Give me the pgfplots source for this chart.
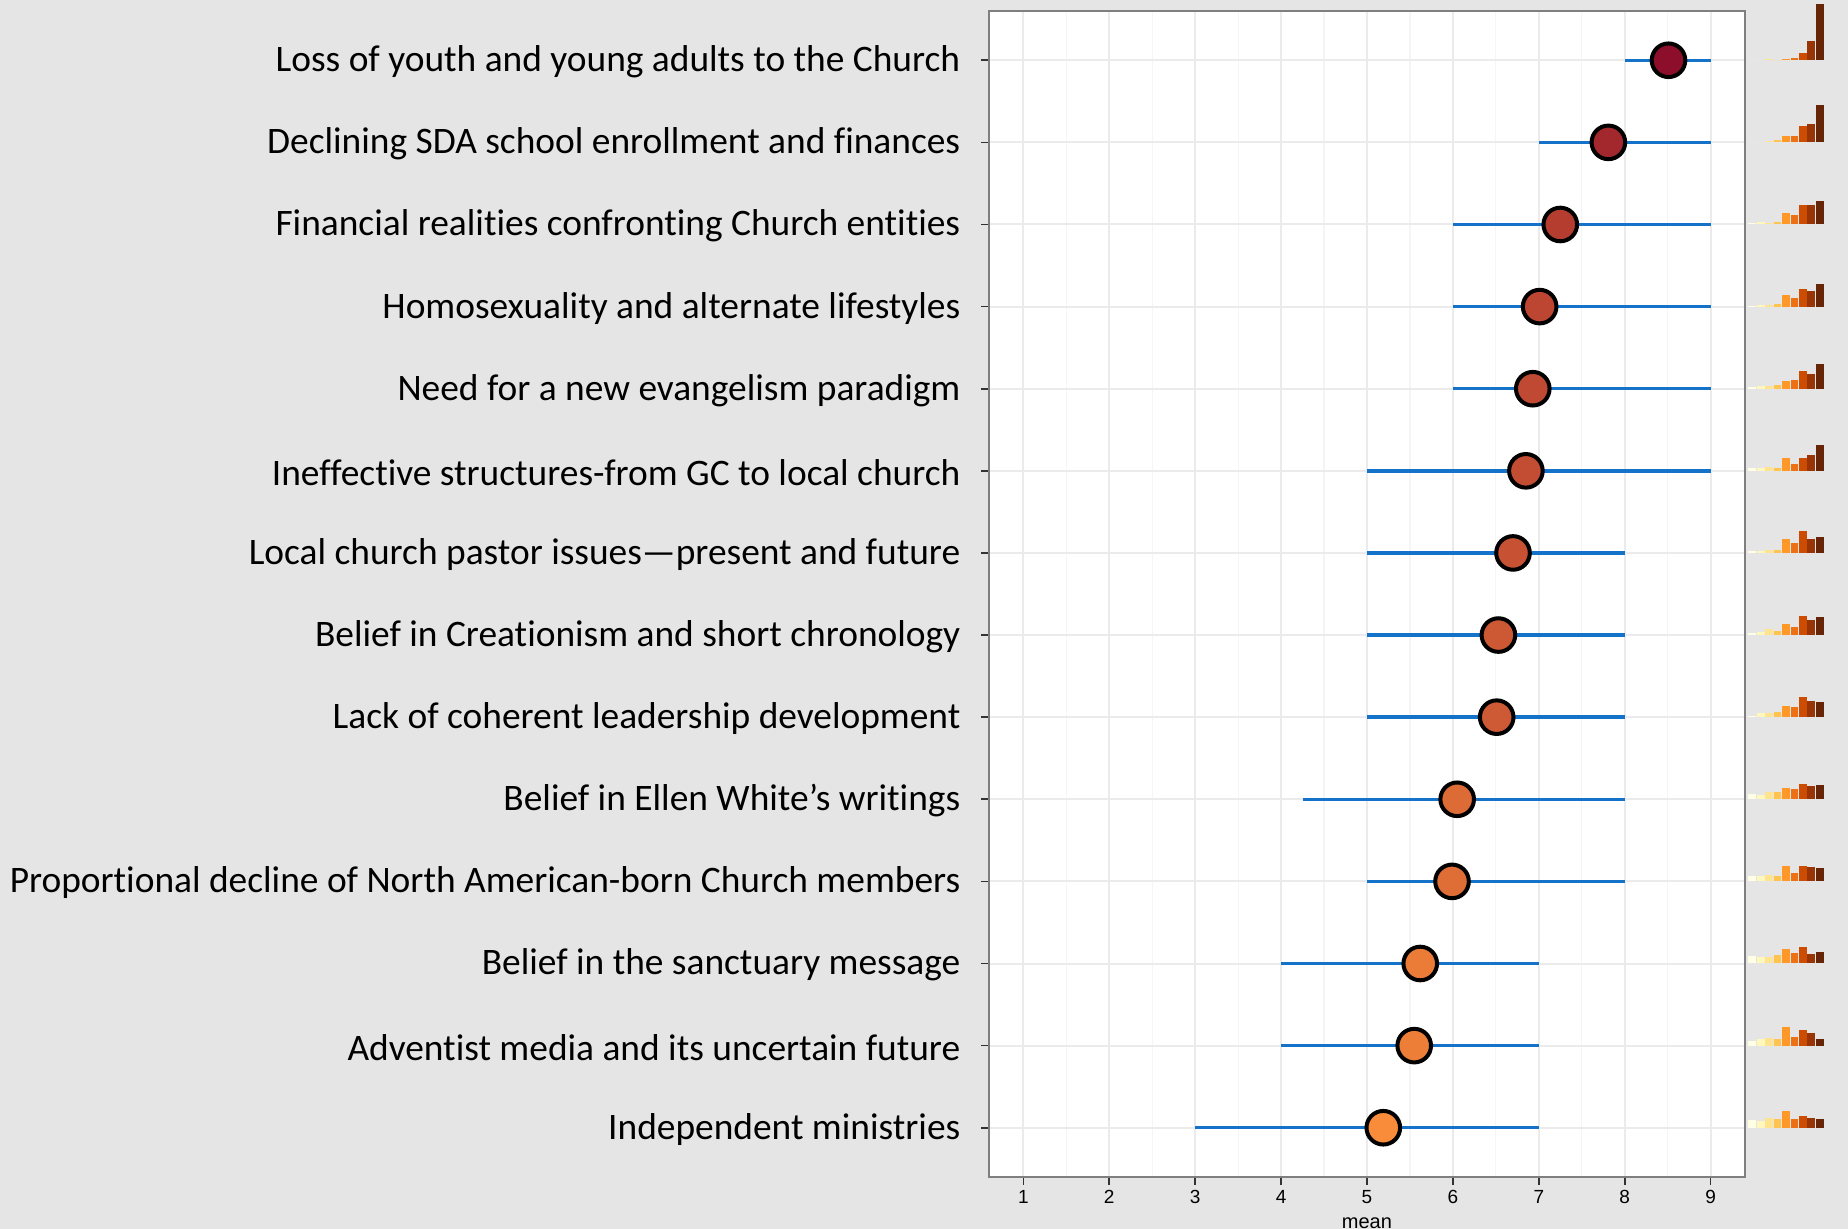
\documentclass[border=0pt]{standalone}
\usepackage{pgfplots}
\pgfplotsset{compat=1.18}
\usepackage{pgfplotstable}
\usepackage{fontspec}
\setmainfont{Liberation Sans}
\newfontfamily\carlito[Ligatures=NoCommon]{Carlito}

\definecolor{bggray}{RGB}{229,229,229}
\definecolor{gridmaj}{RGB}{235,235,235}
\definecolor{gridmin}{RGB}{245,245,245}
\definecolor{bordergray}{RGB}{127,127,127}
\definecolor{errblue}{RGB}{20,114,200}
\definecolor{yob1}{RGB}{255,255,229}
\definecolor{yob2}{RGB}{255,247,188}
\definecolor{yob3}{RGB}{254,227,145}
\definecolor{yob4}{RGB}{254,196,79}
\definecolor{yob5}{RGB}{254,153,41}
\definecolor{yob6}{RGB}{236,112,20}
\definecolor{yob7}{RGB}{204,76,2}
\definecolor{yob8}{RGB}{153,52,4}
\definecolor{yob9}{RGB}{102,37,6}

\pgfplotstableread{
row mean lo hi
1 8.51 8 9
2 7.81 7 9
3 7.25 6 9
4 7.01 6 9
5 6.93 6 9
6 6.85 5 9
7 6.70 5 8
8 6.53 5 8
9 6.51 5 8
10 6.05 4.25 8
11 5.99 5 8
12 5.62 4 7
13 5.55 4 7
14 5.19 3 7
}\meandata

\pgfplotstableread{
bin r1 r2 r3 r4 r5 r6 r7 r8 r9 r10 r11 r12 r13 r14
1 0 0 3 3 6 9 6 6 3 15 15 21 15 24
2 0 0 6 6 9 9 6 9 12 12 15 18 21 21
3 3 3 3 6 9 12 9 18 12 21 18 18 24 29
4 0 6 6 9 12 9 9 12 15 21 15 24 21 26
5 3 18 33 36 24 39 42 33 33 33 45 42 57 50
6 6 18 27 27 27 21 30 24 30 30 24 30 27 26
7 21 48 57 54 54 39 66 57 60 45 45 48 48 36
8 57 54 57 48 45 48 42 45 48 39 42 27 39 30
9 168 111 69 69 75 78 48 54 45 42 39 33 21 27
}\histdata

\newcommand{\hist}[1]{%
\begin{axis}[at={(379.5pt,{(14.6-#1)*41.056pt})}, anchor=south west,
  scale only axis, width=38pt, height=28pt,
  xmin=0.5, xmax=9.5, ymin=0, ymax=168, hide axis, clip=false]
\pgfplotsinvokeforeach{1,...,9}{%
  \addplot[ybar, bar width=3.9pt, bar shift=0pt, draw=none, fill=yob##1,
    unbounded coords=discard,
    x filter/.expression={abs(x-##1)<0.3 ? x : nan}] table[x=bin, y=r#1]{\histdata};}
\end{axis}}

\begin{document}
\begin{tikzpicture}
\fill[bggray] (-494.5pt,-26pt) rectangle (429.5pt,588.5pt);
\begin{axis}[
  at={(0,0)}, anchor=south west, scale only axis, width=378pt, height=583pt,
  xmin=0.6, xmax=9.4, ymin=0.4, ymax=14.6, y dir=reverse,
  xtick={1,...,9}, minor xtick={1.5,2.5,...,8.5},
  ytick={1,...,14},
  yticklabels={Loss of youth and young adults to the Church,
    Declining SDA school enrollment and finances,
    Financial realities confronting Church entities,
    Homosexuality and alternate lifestyles,
    Need for a new evangelism paradigm,
    Ineffective structures-from GC to local church,
    Local church pastor issues—present and future,
    Belief in Creationism and short chronology,
    Lack of coherent leadership development,
    Belief in Ellen White’s writings,
    Proportional decline of North American-born Church members,
    Belief in the sanctuary message,
    Adventist media and its uncertain future,
    Independent ministries},
  xmajorgrids, xminorgrids, ymajorgrids,
  major grid style={color=gridmaj, line width=1pt},
  minor grid style={color=gridmin, line width=0.6pt},
  axis line style={color=bordergray, line width=1.2pt},
  axis background/.style={fill=white},
  tick align=outside, xtick pos=bottom, ytick pos=left,
  major tick length=3.8pt, minor tick length=0pt,
  tick style={color=black!80, line width=0.8pt},
  yticklabel style={font=\carlito\fontsize{18.7}{22}\selectfont, xshift=-7pt, yshift=-0.8pt},
  xticklabel style={font=\fontsize{9.5}{10}\selectfont, yshift=0.6pt},
  /pgf/number format/assume math mode=true,
  xlabel={mean}, xlabel style={font=\fontsize{10}{12}\selectfont},
  colormap={dots}{rgb255=(248,140,58) rgb255=(140,14,42)},
  point meta min=5.19, point meta max=8.51,
  clip=false,
]
\addplot[only marks, mark=none, forget plot,
  error bars/.cd, x dir=both, x explicit, error mark=none,
  error bar style={draw=errblue, line width=1.7pt}]
  table[x=mean, y=row,
    x error minus expr=\thisrow{mean}-\thisrow{lo},
    x error plus expr=\thisrow{hi}-\thisrow{mean}]{\meandata};
\addplot[scatter, only marks, mark=*, mark size=8.4pt, point meta=explicit,
  scatter/use mapped color={draw=black, fill=mapped color},
  mark options={line width=2pt}]
  table[x=mean, y=row, meta=mean]{\meandata};
\end{axis}
\hist{1}
\hist{2}
\hist{3}
\hist{4}
\hist{5}
\hist{6}
\hist{7}
\hist{8}
\hist{9}
\hist{10}
\hist{11}
\hist{12}
\hist{13}
\hist{14}
\pgfresetboundingbox
\useasboundingbox (-494.5pt,-26pt) rectangle (429.5pt,588.5pt);
\end{tikzpicture}
\end{document}
